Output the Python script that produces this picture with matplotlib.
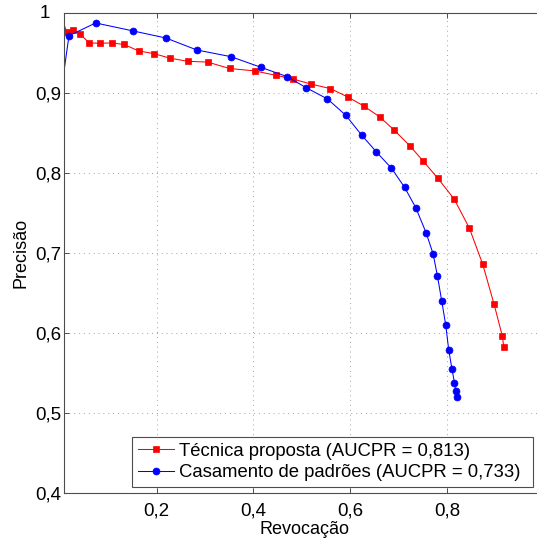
import numpy as np
import matplotlib
matplotlib.use('Agg')
import matplotlib.pyplot as plt

plt.rcParams['font.family'] = ['Liberation Sans', 'DejaVu Sans']

# ==============================================================================
# DATA
# ==============================================================================

# Técnica proposta
recall_prop = [0.0, 0.0142, 0.0266, 0.0417, 0.0609, 0.0824, 0.107, 0.1325,
               0.163, 0.195, 0.2268, 0.264, 0.3053, 0.3507, 0.4023, 0.4462,
               0.4807, 0.5185, 0.5591, 0.5948, 0.6279, 0.6609, 0.6904, 0.7228,
               0.7503, 0.7812, 0.8147, 0.846, 0.8735, 0.8968, 0.9141, 0.9168]
prec_prop = [1.0, 0.977, 0.979, 0.974, 0.963, 0.9625, 0.963, 0.961,
             0.953, 0.9495, 0.944, 0.940, 0.939, 0.931, 0.928, 0.9225,
             0.918, 0.9116, 0.9058, 0.8954, 0.8841, 0.8704, 0.8541, 0.8345,
             0.8154, 0.7935, 0.7676, 0.7313, 0.6863, 0.6366, 0.5963, 0.5833]

# Casamento de padrões
recall_pat = [0.0, 0.019, 0.0741, 0.1517, 0.2192, 0.2832, 0.3534, 0.4153,
              0.4696, 0.5088, 0.5529, 0.5907, 0.6237, 0.6541, 0.685, 0.7121,
              0.7352, 0.7565, 0.7709, 0.78, 0.7889, 0.7971, 0.8033, 0.8101,
              0.8151, 0.8178, 0.8198]
prec_pat = [0.89, 0.972, 0.9879, 0.9779, 0.9691, 0.9541, 0.9458, 0.9325,
            0.9208, 0.907, 0.8929, 0.8725, 0.8475, 0.8266, 0.8063, 0.7825,
            0.757, 0.7258, 0.6995, 0.6716, 0.64, 0.6104, 0.5791, 0.555,
            0.5383, 0.5275, 0.5208]

label_prop = 'Técnica proposta (AUCPR = 0,813)'
label_pat = 'Casamento de padrões (AUCPR = 0,733)'

xticks = [0.2, 0.4, 0.6, 0.8, 1.0]
xticklabels = ['0,2', '0,4', '0,6', '0,8', '']
yticks = [0.4, 0.5, 0.6, 0.7, 0.8, 0.9, 1.0]
yticklabels = ['0,4', '0,5', '0,6', '0,7', '0,8', '0,9', '']

# ==============================================================================
# PLOT
# ==============================================================================

FS = 13.5
AXC = '#4d4d4d'

fig = plt.figure(figsize=(5.37, 5.38), dpi=100)
ax = fig.add_axes([0.1197, 0.0831, 0.8933, 0.8922])

ax.plot(recall_prop, prec_prop, color='red', lw=0.75, marker='s',
        ms=4.2, mew=0.5, label=label_prop)
ax.plot(recall_pat, prec_pat, color='blue', lw=0.75, marker='o',
        ms=5, mew=0.5, label=label_pat)

ax.set_xlim(0.0093, 1.0)
ax.set_ylim(0.4, 1.0)
ax.set_xticks(xticks)
ax.set_xticklabels(xticklabels)
ax.set_yticks(yticks)
ax.set_yticklabels(yticklabels)

ax.tick_params(direction='in', length=3.5, width=0.7, colors=AXC,
               labelcolor='black', labelsize=FS, top=True, right=True)
ax.tick_params(axis='x', pad=6.5)
ax.tick_params(axis='y', pad=2.4)
for sp in ax.spines.values():
    sp.set_color(AXC)
    sp.set_linewidth(0.8)

ax.grid(True, color='#a0a0a0', linestyle=(0, (1, 4)), linewidth=0.7)
ax.set_axisbelow(True)

# MATLAB draws the "1" labels shifted left
ax.text(-0.0507, 1.0, '1', transform=ax.get_yaxis_transform(),
        ha='left', va='center', fontsize=FS)
ax.text(0.9825, -0.0196, '1', transform=ax.get_xaxis_transform(),
        ha='left', va='top', fontsize=FS, clip_on=False)

ax.set_xlabel('Revocação', fontsize=FS - 0.5, labelpad=1.5)
ax.set_ylabel('Precisão', fontsize=FS - 0.5, labelpad=4)

# legend box spans a fixed width, like MATLAB's
leg = ax.legend(loc='lower left', mode='expand',
                bbox_to_anchor=(132 / 537, 51 / 538, 401 / 537, 0.05),
                bbox_transform=fig.transFigure, borderaxespad=0,
                fontsize=13.3, handlelength=2.0, handletextpad=0.22,
                borderpad=0.3, labelspacing=0.26, fancybox=False,
                framealpha=1, edgecolor=AXC)
leg.get_frame().set_linewidth(0.8)

plt.savefig('out.png', dpi=100)
plt.close()
